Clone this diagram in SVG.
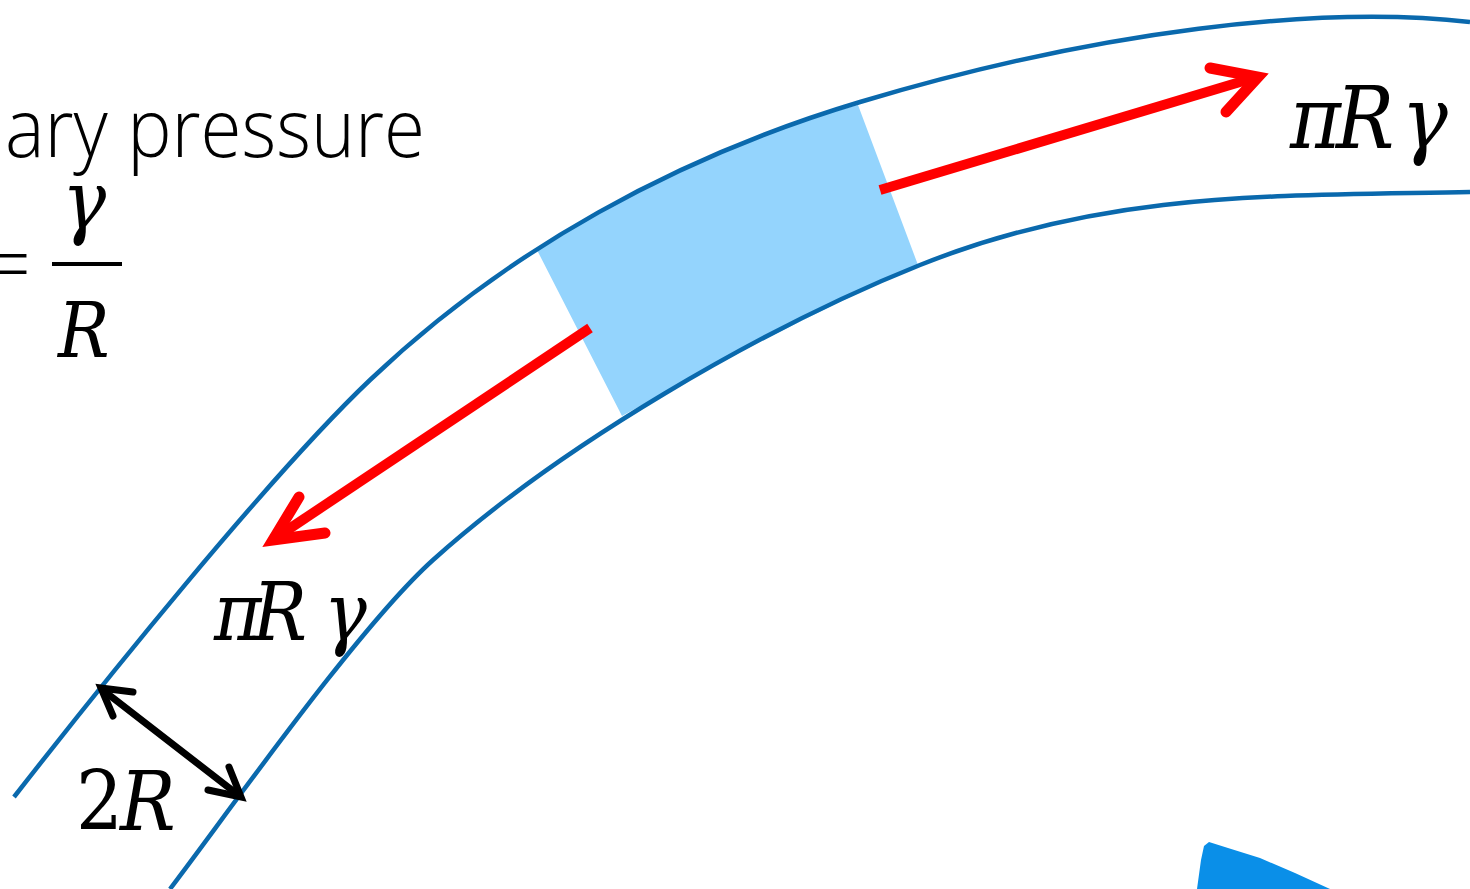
<svg xmlns="http://www.w3.org/2000/svg" width="1470" height="889" viewBox="0 0 1470 889">
<style>
.tube{fill:none;stroke:#0a69ad;stroke-width:4.5}
.red{fill:none;stroke:#ff0000;stroke-width:10}
.redhead{fill:none;stroke:#ff0000;stroke-width:11;stroke-linecap:round;stroke-linejoin:miter;stroke-miterlimit:10}
.blk{fill:none;stroke:#000;stroke-width:7;stroke-linecap:round;stroke-linejoin:miter;stroke-miterlimit:10}
.sans{font-family:"Open Sans","Liberation Sans",sans-serif;font-weight:300;fill:#000}
</style>
<rect width="1470" height="889" fill="#fff"/>
<g id="segment">
<path d="M537,250 Q697,148 858,105 L918,265 Q770,333 622,416 Z" fill="#94d4fd"/>
</g>
<g id="tube">
<path class="tube" d="M14,797 C100,686.7 268.5,476.5 370,380 C507.8,249.1 678,156.5 860,102 C1099.5,30.25 1320,5 1470,22"/>
<path class="tube" d="M170,889 C230.5,809.4 358.7,626.9 433,560 C559.3,446.3 762.2,328.1 920,265 C1105.6,190.8 1270,196 1470,192"/>
</g>
<g id="blob">
<path d="M1197,889 L1201,860 L1204,846 L1209,842 L1228,848 L1260,858 L1295,873 L1330,889 Z" fill="#0a8fe8"/>
</g>
<g id="connectors">
<line class="red" x1="880" y1="190" x2="1250" y2="79"/>
<polyline class="redhead" points="1210,68 1258,77 1226,112"/>
<line class="red" x1="590" y1="328" x2="280" y2="535"/>
<polyline class="redhead" points="299,497 273,540 325,533"/>
<line class="blk" x1="104" y1="691" x2="237" y2="794"/>
<polyline class="blk" points="113,716 101,688 133,692"/>
<polyline class="blk" points="229,767 241,797 208,790"/>
</g>
<g id="title">
<text class="sans" x="5" y="157" font-size="82" textLength="420" lengthAdjust="spacingAndGlyphs">ary pressure</text>
<text class="sans" x="31" y="293" font-size="82" text-anchor="end">=</text>
<text font-family="'DejaVu Serif', serif" font-style="italic" font-size="82" transform="translate(62,229) scale(0.9,1)">γ</text>
<rect x="52" y="262" width="70" height="4" fill="#000"/>
<text font-family="'DejaVu Serif', serif" font-style="italic" font-size="76" transform="translate(58,357) scale(0.9,1)">R</text>
</g>
<g id="label-right">
<text font-family="'DejaVu Serif', serif" font-style="italic" font-size="86" transform="translate(1290,148) scale(0.9,1)"><tspan x="0">π</tspan><tspan x="51">R</tspan><tspan x="124">γ</tspan></text>
</g>
<g id="label-left">
<text font-family="'DejaVu Serif', serif" font-style="italic" font-size="80" transform="translate(214,640) scale(0.9,1)"><tspan x="0">π</tspan><tspan x="43">R</tspan><tspan x="122">γ</tspan></text>
</g>
<g id="label-2R">
<text font-family="'DejaVu Serif', serif" font-style="italic" font-size="82" transform="translate(76,830) scale(0.9,1)"><tspan x="0" font-style="normal">2</tspan><tspan x="49">R</tspan></text>
</g>
</svg>
